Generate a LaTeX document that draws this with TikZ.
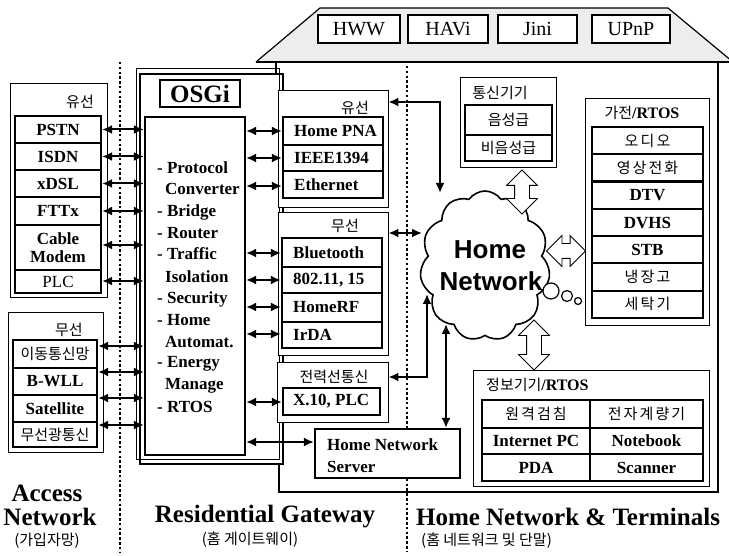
\documentclass[tikz,border=0pt]{standalone}
\usepackage{fontspec}
\setmainfont{Liberation Serif}
\newfontfamily\kr{Noto Sans CJK KR}
\newfontfamily\krs[LetterSpace=14]{Noto Sans CJK KR}
\newfontfamily\hsans{Liberation Sans}
\usetikzlibrary{arrows.meta,shapes.symbols,shapes.arrows}
\newcommand\fB{\fontsize{17}{21}\selectfont\bfseries}
\newcommand\fK{\fontsize{15}{18}\selectfont\kr}
\newcommand\fKs{\fontsize{15}{18}\selectfont\krs}
\newcommand\fR{\fontsize{20}{24}\selectfont}
\newcommand\fL{\fontsize{25}{28}\selectfont\bfseries}
\newcommand\bx[7]{\node[#6, minimum width={#4-#2}, minimum height={#5-#3}] (#1) at ({(#2+#4)/2},{(#3+#5)/2}) {#7};}
\begin{document}
\begin{tikzpicture}[x=1pt,y=-1pt,
  thinbox/.style={draw, line width=0.8pt, fill=white, inner sep=0pt},
  thickbox/.style={draw, line width=2.2pt, fill=white, inner sep=0pt},
  row/.style={thickbox, align=center, font=\fB},
  krow/.style={thickbox, align=center, font=\fK},
  ksrow/.style={thickbox, align=center, font=\fKs},
  dar/.style={line width=2pt, {Latex[length=10pt,width=9pt]}-{Latex[length=10pt,width=9pt]}},
  divider/.style={line width=2.8pt, dash pattern=on 2.5pt off 2.3pt},
  hollow/.style={double arrow, draw, fill=white, line width=0.8pt, inner sep=7pt, minimum width=30pt, double arrow head extend=8pt},
  lbl/.style={inner sep=0pt}]
\useasboundingbox (0,0) rectangle (729,556);
% house
\fill[black!7] (256,62) -- (320,8) -- (668,8) -- (733,62) -- cycle;
\draw[line width=1.2pt] (256,62) -- (320,8) -- (668,8) -- (733,62);
\draw[line width=2.4pt] (256,62) -- (729,62);
\draw[line width=2.8pt] (718,62) -- (718,492) -- (279,492) -- (279,464);
\draw[line width=2pt] (276,62) -- (276,74);
% RG frame
\draw[line width=0.7pt] (136,68) rectangle (279,459);
\draw[line width=2.4pt] (140,74) rectangle (283,464);
% dividers
\draw[divider] (120,62) -- (120,552);
\draw[divider] (407,66) -- (407,552);
% roof boxes
\bx{hww}{318}{15}{400}{43}{thickbox,font=\fR}{HWW}
\bx{havi}{408}{15}{488}{43}{thickbox,font=\fR}{HAVi}
\bx{jini}{498}{15}{577}{43}{thickbox,font=\fR}{Jini}
\bx{upnp}{592}{15}{670}{43}{thickbox,font=\fR}{UPnP}
% access network wired
\bx{wiredL}{10}{83}{107}{297}{thinbox}{}
\node[lbl,font=\fK] (wiredLlab) at (80,102) {유선};
\bx{pstn}{15}{116}{101}{143}{row}{PSTN}
\bx{isdn}{15}{143}{101}{170}{row}{ISDN}
\bx{xdsl}{15}{170}{101}{197}{row}{xDSL}
\bx{fttx}{15}{197}{101}{225}{row}{FTTx}
\bx{cable}{15}{225}{101}{270}{row}{Cable\\[-3pt]Modem}
\bx{plc}{15}{270}{101}{293}{row,font=\fontsize{17}{20}\selectfont}{PLC}
% access network wireless
\bx{wlsL}{8}{312}{103}{452}{thinbox}{}
\node[lbl,font=\fK] (wlsLlab) at (69,330) {무선};
\bx{mob}{13}{340}{97}{368}{krow}{이동통신망}
\bx{bwll}{13}{368}{97}{395}{row}{B-WLL}
\bx{sat}{13}{395}{97}{422}{row}{Satellite}
\bx{opt}{13}{422}{97}{447}{krow}{무선광통신}
% OSGi
\bx{osgi}{160}{80}{240}{107}{thickbox,font=\fontsize{25}{28}\selectfont\bfseries}{OSGi}
\bx{func}{145}{117}{245}{455}{thickbox}{}
\foreach \t/\xx/\yy [count=\i] in {{- Protocol}/157/168, {Converter}/165/189, {- Bridge}/157/212, {- Router}/157/233, {- Traffic}/157/254, {Isolation}/165/277, {- Security}/157/299, {- Home}/157/320, {Automat.}/165/342, {- Energy}/157/364, {Manage}/165/386, {- RTOS}/157/407}
  \node[lbl,anchor=west,font=\fB] (fl\i) at (\xx,\yy) {\t};
% home network wired
\bx{hnw}{278}{90}{388}{207}{thinbox}{}
\node[lbl,font=\fK] (hnwlab) at (355,108) {유선};
\bx{pna}{283}{117}{383}{145}{thickbox}{}
\bx{ieee}{283}{145}{383}{171}{thickbox}{}
\bx{eth}{283}{171}{383}{198}{thickbox}{}
\node[lbl,anchor=west,font=\fB] (pnat) at (294,131) {Home PNA};
\node[lbl,anchor=west,font=\fB] (ieeet) at (294,158) {IEEE1394};
\node[lbl,anchor=west,font=\fB] (etht) at (294,184.5) {Ethernet};
% home network wireless
\bx{hnwl}{278}{212}{388}{355}{thinbox}{}
\node[lbl,font=\fK] (hnwllab) at (345,226) {무선};
\bx{bt}{282}{238}{382}{267}{thickbox}{}
\bx{wifi}{282}{267}{382}{293}{thickbox}{}
\bx{hrf}{282}{293}{382}{322}{thickbox}{}
\bx{irda}{282}{322}{382}{348}{thickbox}{}
\node[lbl,anchor=west,font=\fB] (btt) at (293,252.5) {Bluetooth};
\node[lbl,anchor=west,font=\fB] (wifit) at (293,280) {802.11, 15};
\node[lbl,anchor=west,font=\fB] (hrft) at (293,307.5) {HomeRF};
\node[lbl,anchor=west,font=\fB] (irdat) at (293,335) {IrDA};
% power line
\bx{hpl}{277}{362}{388}{422}{thinbox}{}
\node[lbl,font=\fK] (hpllab) at (334,377) {전력선통신};
\bx{x10}{283}{388}{380}{415}{thickbox}{}
\node[lbl,anchor=west,font=\fB] (x10t) at (293,401.5) {X.10, PLC};
% server
\bx{server}{315}{429}{460}{478}{thickbox}{}
\node[lbl,anchor=west,font=\fB] (srv1) at (327,445) {Home Network};
\node[lbl,anchor=west,font=\fB] (srv2) at (327,467) {Server};
% arrows left
\foreach \n/\yy in {pstn/129.5, isdn/156.5, xdsl/183.5, fttx/211, cable/245, plc/281, mob/346, bwll/372, sat/398, opt/425}
  \draw[dar] (\n.east |- 0,\yy) -- (func.west |- 0,\yy);
% arrows right
\foreach \n/\yy in {pna/131, ieee/158, eth/186, bt/253, wifi/280, hrf/307, irda/334, x10/402, server/442}
  \draw[dar] (func.east |- 0,\yy) -- (\n.west |- 0,\yy);
% cloud
\node[cloud, draw, line width=1.6pt, fill=white, cloud puffs=11, cloud puff arc=110, aspect=0.9, minimum width=130pt, minimum height=150pt, inner sep=0pt] (cloud) at (485,266) {};
\node[lbl,font=\hsans\bfseries\fontsize{26}{30}\selectfont] (homet) at (490,250) {Home};
\node[lbl,font=\hsans\bfseries\fontsize{26}{30}\selectfont] (netwt) at (491,281) {Network};
\node[circle, draw, line width=1.2pt, fill=white, minimum size=16pt, inner sep=0pt] (bub1) at (551,291) {};
\node[circle, draw, line width=1.2pt, fill=white, minimum size=11pt, inner sep=0pt] (bub2) at (567,296) {};
\node[circle, draw, line width=1.2pt, fill=white, minimum size=7pt, inner sep=0pt] (bub3) at (578,301) {};
\coordinate (c1) at (440,193);
\coordinate (c2) at (422,233);
\coordinate (c3) at (427,294);
\coordinate (c4) at (446,324);
\draw[dar] (hnw.east |- 0,102) -| (c1);
\draw[dar] (hnwl.east |- 0,233) -- (c2);
\draw[dar] (hpl.east |- 0,377) -| (c3);
\draw[dar] (c4) -- (server.north -| c4);
% comm devices
\bx{comm}{460}{77}{556}{167}{thinbox}{}
\node[lbl,font=\fK] (commlab) at (500,93) {통신기기};
\bx{voice}{465}{105}{552}{135}{krow}{음성급}
\bx{nvoice}{465}{135}{552}{161}{krow}{비음성급}
% appliances
\bx{appl}{585}{98}{709}{325}{thinbox}{}
\node[lbl] (appllab) at (642,113) {\fK 가전\fontsize{16}{18}\selectfont\rmfamily\bfseries /RTOS};
\bx{a1}{592}{127}{703}{154.3}{ksrow}{오디오}
\bx{a2}{592}{154.3}{703}{181.6}{ksrow}{영상전화}
\bx{a3}{592}{181.6}{703}{208.9}{row}{DTV}
\bx{a4}{592}{208.9}{703}{236.2}{row}{DVHS}
\bx{a5}{592}{236.2}{703}{263.4}{row}{STB}
\bx{a6}{592}{263.4}{703}{290.7}{ksrow}{냉장고}
\bx{a7}{592}{290.7}{703}{318}{ksrow}{세탁기}
% information devices
\bx{info}{473}{370}{709}{486}{thinbox}{}
\node[lbl,anchor=west] (infolab) at (486,385) {\fK 정보기기\fontsize{16}{18}\selectfont\rmfamily\bfseries /RTOS};
\bx{i1}{482}{400}{590}{428}{ksrow}{원격검침}
\bx{i2}{590}{400}{703}{428}{ksrow}{전자계량기}
\bx{i3}{482}{428}{590}{454}{row}{Internet PC}
\bx{i4}{590}{428}{703}{454}{row}{Notebook}
\bx{i5}{482}{454}{590}{481}{row}{PDA}
\bx{i6}{590}{454}{703}{481}{row}{Scanner}
% hollow arrows
\node[hollow, rotate=90, minimum height=44pt] (h1) at (522,192) {};
\node[hollow, minimum height=39pt] (h2) at (566,251) {};
\node[hollow, rotate=90, minimum height=50pt] (h3) at (534,345) {};
% bottom labels
\node[lbl,font=\fL] (acc1) at (47,493) {Access};
\node[lbl,font=\fL] (acc2) at (50,517) {Network};
\node[lbl,font=\fK] (acc3) at (47,541) {(가입자망)};
\node[lbl,font=\fL] (rg1) at (265,517) {Residential Gateway};
\node[lbl,font=\fK] (rg2) at (250,540) {(홈 게이트웨이)};
\node[lbl,font=\fL] (hn1) at (568,517) {Home Network \& Terminals};
\node[lbl,font=\fK,anchor=west] (hn2) at (421,541) {(홈 네트워크 및 단말)};
\end{tikzpicture}
\end{document}
